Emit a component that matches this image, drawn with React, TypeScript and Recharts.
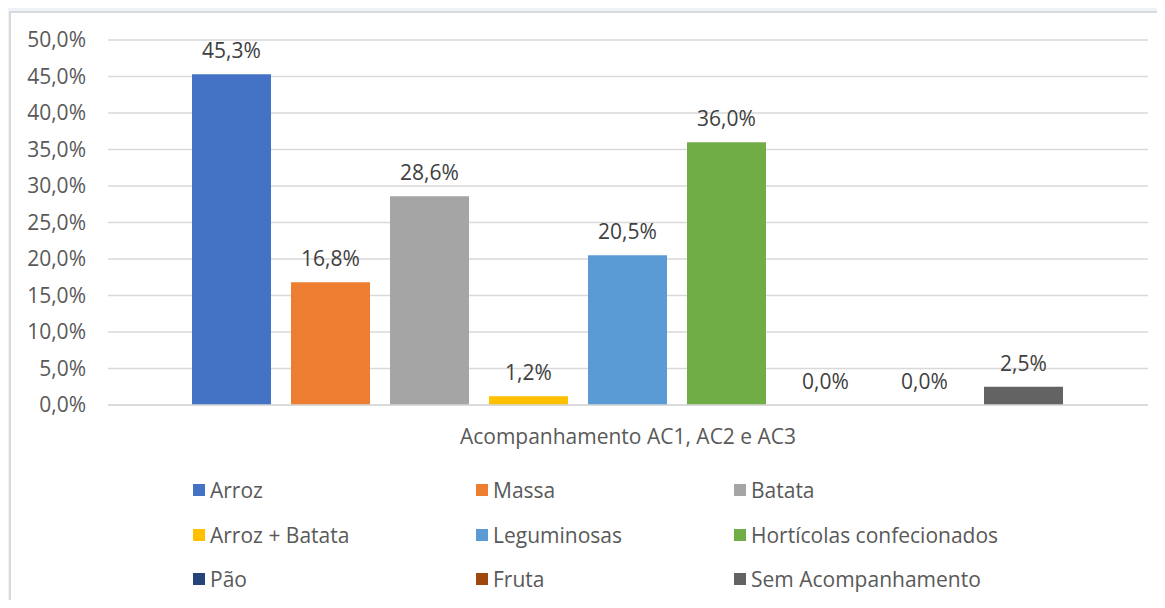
import { BarChart, Bar, XAxis, YAxis, CartesianGrid, LabelList } from 'recharts';

const CATEGORY = 'Acompanhamento AC1, AC2 e AC3';
const SERIES = [
  'Arroz',
  'Massa',
  'Batata',
  'Arroz + Batata',
  'Leguminosas',
  'Hortícolas confecionados',
  'Pão',
  'Fruta',
  'Sem Acompanhamento',
];
const VALUES = [45.3, 16.8, 28.6, 1.2, 20.5, 36.0, 0.0, 0.0, 2.5];
const COLORS = ['#4472C4', '#ED7D31', '#A5A5A5', '#FFC000', '#5B9BD5', '#70AD47', '#264478', '#9E480E', '#636363'];
const Y_TICKS = [0, 5, 10, 15, 20, 25, 30, 35, 40, 45, 50];

// one category row, one key per series
const data = [
  SERIES.reduce<Record<string, string | number>>(
    (row, _s, i) => {
      row[`s${i}`] = VALUES[i];
      return row;
    },
    { name: CATEGORY }
  ),
];

const pct = (v: number) => `${Number(v).toFixed(1).replace('.', ',')}%`;

const FONT = '"Open Sans", "Noto Sans", sans-serif';
const FS = 21;

export default function App() {
  return (
    <div
      style={{
        position: 'relative',
        width: 1165,
        height: 608,
        margin: -8,
        overflow: 'hidden',
        background: '#eef3fa',
        fontFamily: FONT,
      }}
    >
      <div
        style={{
          position: 'absolute',
          left: 9,
          top: 11,
          width: 1170,
          height: 610,
          background: '#fff',
          border: '2px solid #d9d9d9',
        }}
      />
      <div style={{ position: 'absolute', left: 0, top: 0 }}>
        <BarChart
          width={1165}
          height={470}
          data={data}
          margin={{ top: 40, right: 17, left: 0, bottom: 0 }}
          barCategoryGap={84}
          barGap={20}
        >
          <CartesianGrid vertical={false} stroke="#d9d9d9" strokeWidth={1.5} />
          <XAxis
            dataKey="name"
            height={65}
            tickLine={false}
            tickSize={0}
            tickMargin={24}
            axisLine={{ stroke: '#d9d9d9', strokeWidth: 1.5 }}
            tick={{ fill: '#595959', fontSize: FS, fontFamily: FONT }}
          />
          <YAxis
            width={108}
            domain={[0, 50]}
            ticks={Y_TICKS}
            interval={0}
            tickFormatter={pct}
            axisLine={false}
            tickLine={false}
            tickSize={0}
            tickMargin={22}
            tick={{ fill: '#595959', fontSize: FS, fontFamily: FONT }}
          />
          {SERIES.map((s, i) => (
            <Bar
              key={s}
              dataKey={`s${i}`}
              name={s}
              fill={COLORS[i]}
              minPointSize={0.01}
              isAnimationActive={false}
            >
              <LabelList
                dataKey={`s${i}`}
                position="top"
                offset={16}
                formatter={(v: any) => pct(v)}
                style={{ fill: '#404040', fontSize: FS, fontFamily: FONT }}
              />
            </Bar>
          ))}
        </BarChart>
      </div>
      {/* legend: 3 columns x 3 rows */}
      {SERIES.map((s, i) => {
        const col = i % 3;
        const row = Math.floor(i / 3);
        const lefts = [193, 476, 734];
        return (
          <div
            key={s}
            style={{
              position: 'absolute',
              left: lefts[col],
              top: 490 + row * 44.5 - 15,
              height: 30,
              display: 'flex',
              alignItems: 'center',
              color: '#595959',
              fontSize: FS,
              whiteSpace: 'nowrap',
            }}
          >
            <span style={{ width: 12, height: 12, background: COLORS[i], marginRight: 5, display: 'inline-block' }} />
            {s}
          </div>
        );
      })}
    </div>
  );
}
